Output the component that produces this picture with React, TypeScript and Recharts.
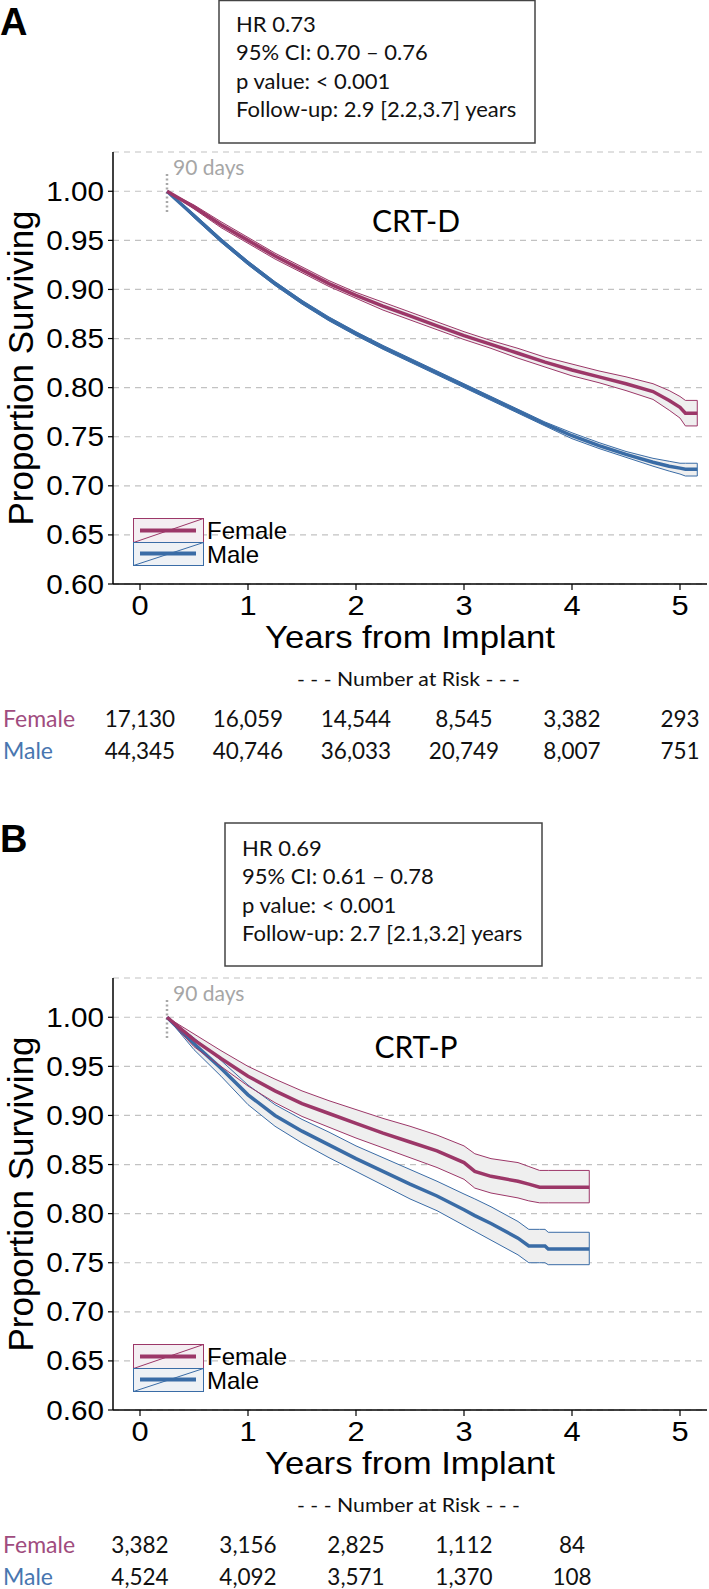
import React from 'react';
import { ComposedChart, Line, Area, XAxis, YAxis, CartesianGrid, ReferenceLine, Legend } from 'recharts';

const FEMALE = '#9c3768';
const MALE = '#3a6ca6';
const FEMALE_TXT = '#a04c7e';
const MALE_TXT = '#4876b0';
const BAND = '#efefef';
const HELV = "'Liberation Sans', Arial, Helvetica, sans-serif";
const CAL = "Lato, 'Open Sans', sans-serif";

const yearTicks = [0, 1, 2, 3, 4, 5];
const survTicks = [0.6, 0.65, 0.7, 0.75, 0.8, 0.85, 0.9, 0.95, 1.0];

// Panel A: CRT-D
const yearsA = [0.25, 0.5, 0.75, 1, 1.25, 1.5, 1.75, 2, 2.25, 2.5, 2.75, 3, 3.25, 3.5, 3.75, 4, 4.25, 4.5, 4.75, 4.9, 5, 5.05, 5.16];
const femaleA = [1.0, 0.984, 0.966, 0.95, 0.934, 0.92, 0.906, 0.894, 0.883, 0.873, 0.863, 0.853, 0.844, 0.835, 0.826, 0.818, 0.811, 0.804, 0.796, 0.787, 0.78, 0.774, 0.774];
const femaleAHi = [1.0, 0.986, 0.969, 0.953, 0.937, 0.923, 0.909, 0.897, 0.887, 0.877, 0.867, 0.857, 0.848, 0.84, 0.831, 0.824, 0.817, 0.811, 0.804, 0.797, 0.791, 0.787, 0.787];
const femaleALo = [1.0, 0.982, 0.963, 0.947, 0.931, 0.917, 0.903, 0.891, 0.879, 0.869, 0.859, 0.849, 0.84, 0.83, 0.821, 0.812, 0.805, 0.797, 0.788, 0.777, 0.769, 0.761, 0.761];
const maleA = [1.0, 0.975, 0.95, 0.927, 0.906, 0.887, 0.87, 0.855, 0.841, 0.828, 0.815, 0.802, 0.789, 0.776, 0.763, 0.751, 0.741, 0.732, 0.724, 0.72, 0.718, 0.717, 0.717];
const maleAHi = [1.0, 0.977, 0.952, 0.929, 0.908, 0.889, 0.872, 0.857, 0.843, 0.83, 0.817, 0.804, 0.791, 0.778, 0.765, 0.754, 0.744, 0.735, 0.728, 0.725, 0.723, 0.723, 0.723];
const maleALo = [1.0, 0.973, 0.948, 0.925, 0.904, 0.885, 0.868, 0.853, 0.839, 0.826, 0.813, 0.8, 0.787, 0.774, 0.761, 0.748, 0.738, 0.729, 0.72, 0.715, 0.712, 0.71, 0.71];
const riskFemaleA = ['17,130', '16,059', '14,544', '8,545', '3,382', '293'];
const riskMaleA = ['44,345', '40,746', '36,033', '20,749', '8,007', '751'];
const statsA = ['HR 0.73', '95% CI: 0.70 \u2013 0.76', 'p value: < 0.001', 'Follow-up: 2.9 [2.2,3.7] years'];

// Panel B: CRT-P
const yearsB = [0.25, 0.5, 0.75, 1, 1.25, 1.5, 1.75, 2, 2.25, 2.5, 2.75, 3, 3.1, 3.25, 3.5, 3.6, 3.7, 3.75, 3.78, 4.16];
const femaleB = [1.0, 0.977, 0.958, 0.94, 0.925, 0.912, 0.902, 0.892, 0.882, 0.873, 0.864, 0.852, 0.843, 0.838, 0.833, 0.83, 0.827, 0.827, 0.827, 0.827];
const femaleBHi = [1.0, 0.983, 0.966, 0.95, 0.937, 0.925, 0.915, 0.906, 0.897, 0.889, 0.88, 0.869, 0.861, 0.856, 0.852, 0.848, 0.844, 0.844, 0.844, 0.844];
const femaleBLo = [1.0, 0.97, 0.95, 0.93, 0.913, 0.899, 0.888, 0.877, 0.867, 0.857, 0.847, 0.835, 0.826, 0.821, 0.816, 0.813, 0.811, 0.811, 0.811, 0.811];
const maleB = [1.0, 0.973, 0.948, 0.921, 0.9, 0.884, 0.87, 0.856, 0.843, 0.83, 0.818, 0.804, 0.798, 0.79, 0.775, 0.767, 0.767, 0.767, 0.764, 0.764];
const maleBHi = [1.0, 0.979, 0.956, 0.931, 0.911, 0.896, 0.883, 0.869, 0.857, 0.845, 0.833, 0.82, 0.815, 0.807, 0.792, 0.784, 0.784, 0.784, 0.781, 0.781];
const maleBLo = [1.0, 0.967, 0.94, 0.911, 0.889, 0.872, 0.857, 0.843, 0.829, 0.815, 0.803, 0.788, 0.782, 0.773, 0.758, 0.75, 0.75, 0.75, 0.748, 0.748];
const riskFemaleB = ['3,382', '3,156', '2,825', '1,112', '84'];
const riskMaleB = ['4,524', '4,092', '3,571', '1,370', '108'];
const statsB = ['HR 0.69', '95% CI: 0.61 \u2013 0.78', 'p value: < 0.001', 'Follow-up: 2.7 [2.1,3.2] years'];

type Row = { t: number; fEst: number; fLo: number; fHi: number; fBand: number[]; mEst: number; mLo: number; mHi: number; mBand: number[] };

const buildRows = (t: number[], f: number[], fl: number[], fh: number[], m: number[], ml: number[], mh: number[]): Row[] =>
  t.map((v, i) => ({ t: v, fEst: f[i], fLo: fl[i], fHi: fh[i], fBand: [fl[i], fh[i]], mEst: m[i], mLo: ml[i], mHi: mh[i], mBand: [ml[i], mh[i]] }));

const rowsA = buildRows(yearsA, femaleA, femaleALo, femaleAHi, maleA, maleALo, maleAHi);
const rowsB = buildRows(yearsB, femaleB, femaleBLo, femaleBHi, maleB, maleBLo, maleBHi);

const YTick = (props: any) => {
  const { x, y, payload } = props;
  return (
    <text transform={`translate(${x - 4},${y + 9.5}) scale(1.1,1)`} textAnchor="end" fontFamily={HELV} fontSize={27} fill="#000">
      {Number(payload.value).toFixed(2)}
    </text>
  );
};

const makeXTick = (rf: string[], rm: string[]) => (props: any) => {
  const { x, y, payload } = props;
  const i = yearTicks.indexOf(payload.value);
  return (
    <g>
      <text transform={`translate(${x},${y + 25}) scale(1.1,1)`} textAnchor="middle" fontFamily={HELV} fontSize={28} fill="#000">
        {payload.value}
      </text>
      {rf[i] ? (
        <text x={x} y={y + 137} textAnchor="middle" fontFamily={CAL} fontSize={22.5} fill="#111">{rf[i]}</text>
      ) : null}
      {rm[i] ? (
        <text x={x} y={y + 169} textAnchor="middle" fontFamily={CAL} fontSize={22.5} fill="#111">{rm[i]}</text>
      ) : null}
    </g>
  );
};

const LegendContent = () => (
  <svg width={170} height={50} style={{ display: 'block', overflow: 'visible' }}>
    <rect x={0.5} y={0.5} width={70} height={24} fill="#f4eef2" stroke={FEMALE} strokeWidth={1} />
    <line x1={0.5} y1={24.5} x2={70.5} y2={0.5} stroke={FEMALE} strokeWidth={1} />
    <line x1={7} y1={12.5} x2={63} y2={12.5} stroke={FEMALE} strokeWidth={4} />
    <rect x={0.5} y={24.5} width={70} height={23} fill="#eef1f5" stroke={MALE} strokeWidth={1} />
    <line x1={0.5} y1={47.5} x2={70.5} y2={24.5} stroke={MALE} strokeWidth={1} />
    <line x1={7} y1={35.5} x2={63} y2={35.5} stroke={MALE} strokeWidth={4} />
    <text x={74} y={21} fontFamily={HELV} fontSize={24} fill="#000">Female</text>
    <text x={74} y={45} fontFamily={HELV} fontSize={24} fill="#000">Male</text>
  </svg>
);

type PanelProps = {
  rows: Row[];
  riskF: string[];
  riskM: string[];
  stats: string[];
  letter: string;
  device: string;
  letterY: number;
  box: { x: number; y: number; w: number; h: number };
  statX: number;
  statY: number[];
  top: number;
  height: number;
};

const Panel = ({ rows, riskF, riskM, stats, letter, device, letterY, box, statX, statY, top, height }: PanelProps) => {
  const last = rows[rows.length - 1];
  return (
    <div style={{ position: 'absolute', left: 0, top, width: 709, height }}>
      <ComposedChart width={709} height={763} data={rows} margin={{ top: 152, right: 2, bottom: 0, left: 0 }}>
        <CartesianGrid horizontal vertical={false} stroke="#c2c2c2" strokeWidth={1.2} strokeDasharray="6 5" />
        <XAxis
          type="number"
          dataKey="t"
          domain={[-0.25, 5.25]}
          ticks={yearTicks}
          allowDataOverflow
          height={179}
          tickSize={6}
          tickMargin={0}
          axisLine={{ stroke: '#000', strokeWidth: 1.5 }}
          tickLine={{ stroke: '#000', strokeWidth: 1.2 }}
          tick={makeXTick(riskF, riskM)}
          interval={0}
        />
        <YAxis
          type="number"
          domain={[0.6, 1.04]}
          ticks={survTicks}
          allowDataOverflow
          width={113}
          tickSize={5}
          tickMargin={0}
          axisLine={{ stroke: '#000', strokeWidth: 1.5 }}
          tickLine={{ stroke: '#000', strokeWidth: 1.2 }}
          tick={YTick}
          interval={0}
        />
        <Legend
          layout="vertical"
          align="center"
          verticalAlign="middle"
          content={LegendContent}
          wrapperStyle={{ position: 'absolute', left: 133, top: 518, width: 170, height: 50, margin: 0, padding: 0 }}
        />
        <ReferenceLine
          segment={[{ x: 0.25, y: 0.979 }, { x: 0.25, y: 1.018 }]}
          stroke="#a8a8a8"
          strokeWidth={2.5}
          strokeDasharray="2 2.5"
          ifOverflow="visible"
        />
        <Area type="linear" dataKey="fBand" stroke="none" fill={BAND} fillOpacity={1} isAnimationActive={false} activeDot={false} legendType="none" />
        <Area type="linear" dataKey="mBand" stroke="none" fill={BAND} fillOpacity={1} isAnimationActive={false} activeDot={false} legendType="none" />
        <Line type="linear" dataKey="mLo" stroke={MALE} strokeWidth={1} dot={false} activeDot={false} isAnimationActive={false} legendType="none" />
        <Line type="linear" dataKey="mHi" stroke={MALE} strokeWidth={1} dot={false} activeDot={false} isAnimationActive={false} legendType="none" />
        <Line type="linear" dataKey="mEst" name="Male" stroke={MALE} strokeWidth={3.5} dot={false} activeDot={false} isAnimationActive={false} />
        <Line type="linear" dataKey="fLo" stroke={FEMALE} strokeWidth={1} dot={false} activeDot={false} isAnimationActive={false} legendType="none" />
        <Line type="linear" dataKey="fHi" stroke={FEMALE} strokeWidth={1} dot={false} activeDot={false} isAnimationActive={false} legendType="none" />
        <Line type="linear" dataKey="fEst" name="Female" stroke={FEMALE} strokeWidth={3.5} dot={false} activeDot={false} isAnimationActive={false} />
        <ReferenceLine segment={[{ x: last.t, y: last.fLo }, { x: last.t, y: last.fHi }]} stroke={FEMALE} strokeWidth={1} ifOverflow="visible" />
        <ReferenceLine segment={[{ x: last.t, y: last.mLo }, { x: last.t, y: last.mHi }]} stroke={MALE} strokeWidth={1} ifOverflow="visible" />
      </ComposedChart>
      <svg width={709} height={height} style={{ position: 'absolute', left: 0, top: 0, overflow: 'visible', pointerEvents: 'none' }}>
        <text x={0} y={letterY} fontFamily={HELV} fontWeight="bold" fontSize={38} fill="#000">{letter}</text>
        <rect x={box.x} y={box.y} width={box.w} height={box.h} fill="#fff" stroke="#444" strokeWidth={1.5} />
        {stats.map((s, i) => (
          <text key={i} x={statX} y={statY[i]} fontFamily={CAL} fontSize={22} fill="#111">{s}</text>
        ))}
        <text x={173} y={175} fontFamily={CAL} fontSize={21} fill="#a6a6a6">90 days</text>
        <text x={416} y={232} textAnchor="middle" fontFamily={CAL} fontSize={30} fill="#000">{device}</text>
        <text transform="translate(33,368) rotate(-90)" textAnchor="middle" fontFamily={HELV} fontSize={35} fill="#000">
          Proportion Surviving
        </text>
        <text x={265} y={648} textLength={290} lengthAdjust="spacingAndGlyphs" fontFamily={HELV} fontSize={32} fill="#000">
          Years from Implant
        </text>
        <text x={297} y={686} textLength={223} lengthAdjust="spacingAndGlyphs" fontFamily={CAL} fontSize={19} fill="#111">
          - - - Number at Risk - - -
        </text>
        <text x={3} y={727} fontFamily={CAL} fontSize={23} fill={FEMALE_TXT}>Female</text>
        <text x={3} y={759} fontFamily={CAL} fontSize={23} fill={MALE_TXT}>Male</text>
      </svg>
    </div>
  );
}

export default function App() {
  return (
    <div style={{ position: 'absolute', left: 0, top: 0, width: 709, height: 1589, background: '#fff', overflow: 'hidden' }}>
      <Panel
        rows={rowsA}
        riskF={riskFemaleA}
        riskM={riskMaleA}
        stats={statsA}
        letter="A"
        device="CRT-D"
        letterY={35}
        box={{ x: 219, y: 0.5, w: 316, h: 142.5 }}
        statX={236}
        statY={[32, 60, 89, 117]}
        top={0}
        height={826}
      />
      <Panel
        rows={rowsB}
        riskF={riskFemaleB}
        riskM={riskMaleB}
        stats={statsB}
        letter="B"
        device="CRT-P"
        letterY={26}
        box={{ x: 225, y: -3, w: 317, h: 143 }}
        statX={242}
        statY={[30, 58, 87, 115]}
        top={826}
        height={763}
      />
    </div>
  );
}
